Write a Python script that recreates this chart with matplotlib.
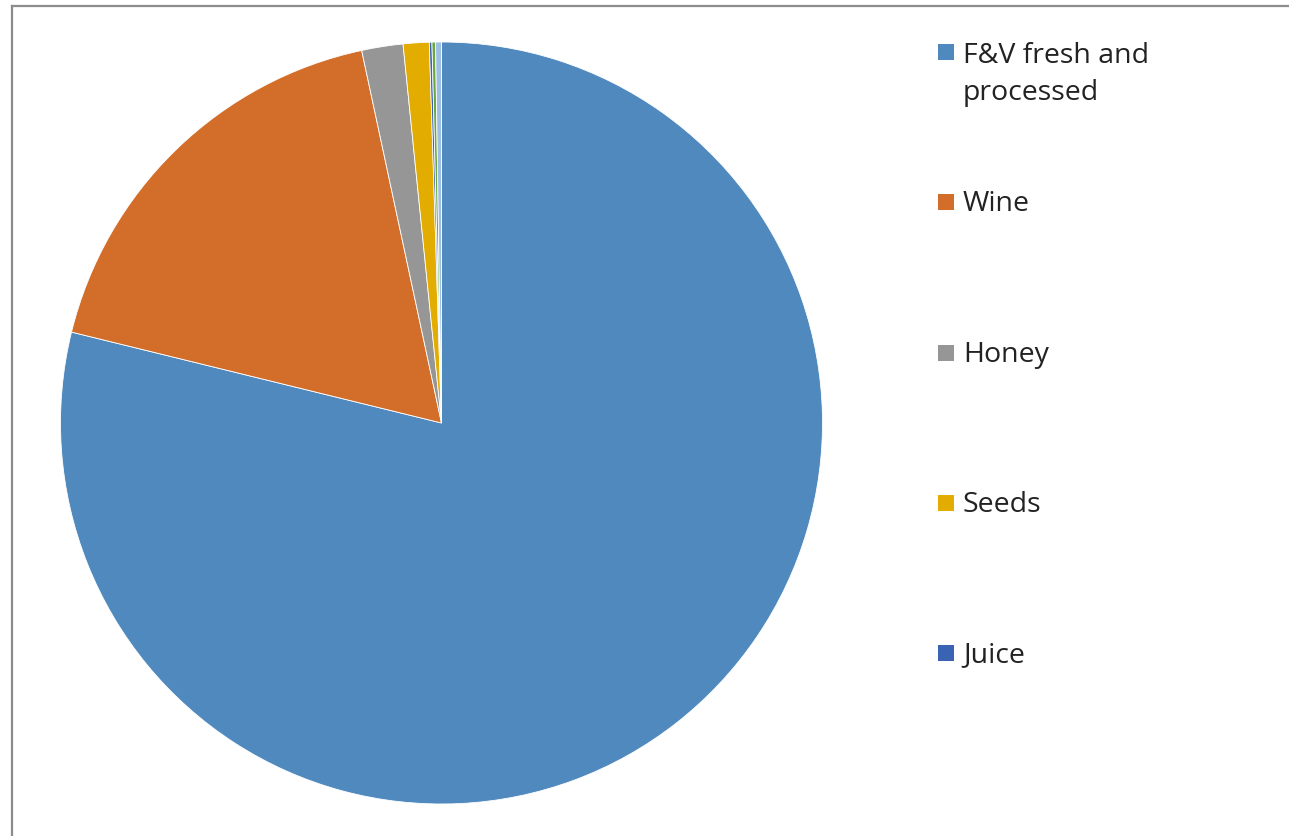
import matplotlib
matplotlib.use("Agg")
import matplotlib.pyplot as plt
from matplotlib.patches import Rectangle
from matplotlib.lines import Line2D

# share of each product group (percent)
labels = ["F&V fresh and\nprocessed", "Wine", "Honey", "Seeds", "Juice", "Other", "Misc"]
shares = [78.85, 17.81, 1.75, 1.10, 0.11, 0.15, 0.25]
colors = ["#4F89BD", "#D26E2A", "#969696", "#E3AC00", "#3B63B3", "#6AA641", "#9DBFE3"]
n_legend = 5  # only the first five entries fit in the legend

W, H, DPI = 1289, 837, 100
fig = plt.figure(figsize=(W / DPI, H / DPI), dpi=DPI)
fig.patch.set_facecolor("white")

# outer chart frame (left and top edges visible)
fig.add_artist(Line2D([12.5 / W, 12.5 / W], [0, 1 - 6.5 / H], transform=fig.transFigure,
                      color="#8c8c8c", lw=1.6))
fig.add_artist(Line2D([12.5 / W, 1], [1 - 6.5 / H, 1 - 6.5 / H], transform=fig.transFigure,
                      color="#8c8c8c", lw=1.6))

# pie centred at (441.5, 424) px, radius 381 px
cx, cy, r = 441.5, H - 424, 381
ax = fig.add_axes([(cx - r) / W, (cy - r) / H, 2 * r / W, 2 * r / H])
ax.pie(shares, colors=colors, startangle=90, counterclock=False, radius=1,
       wedgeprops=dict(edgecolor="white", linewidth=0.6))
ax.set_xlim(-1, 1)
ax.set_ylim(-1, 1)
ax.set_aspect("equal")
ax.axis("off")

# legend on the right
line_px = 41
for i in range(n_legend):
    first_y = 53 + i * 150.3
    nlines = labels[i].count("\n") + 1
    sq = 16
    fig.add_artist(Rectangle((938 / W, (H - first_y - sq / 2) / H), sq / W, sq / H,
                             transform=fig.transFigure, facecolor=colors[i], edgecolor="none"))
    text_y = first_y + 1 + (nlines - 1) * line_px / 2
    fig.text(963 / W, (H - text_y) / H, labels[i], fontsize=20.5, family=["Open Sans", "DejaVu Sans"],
             color="#222222", va="center", ha="left", linespacing=1.42)

fig.savefig("out.png", dpi=DPI)
